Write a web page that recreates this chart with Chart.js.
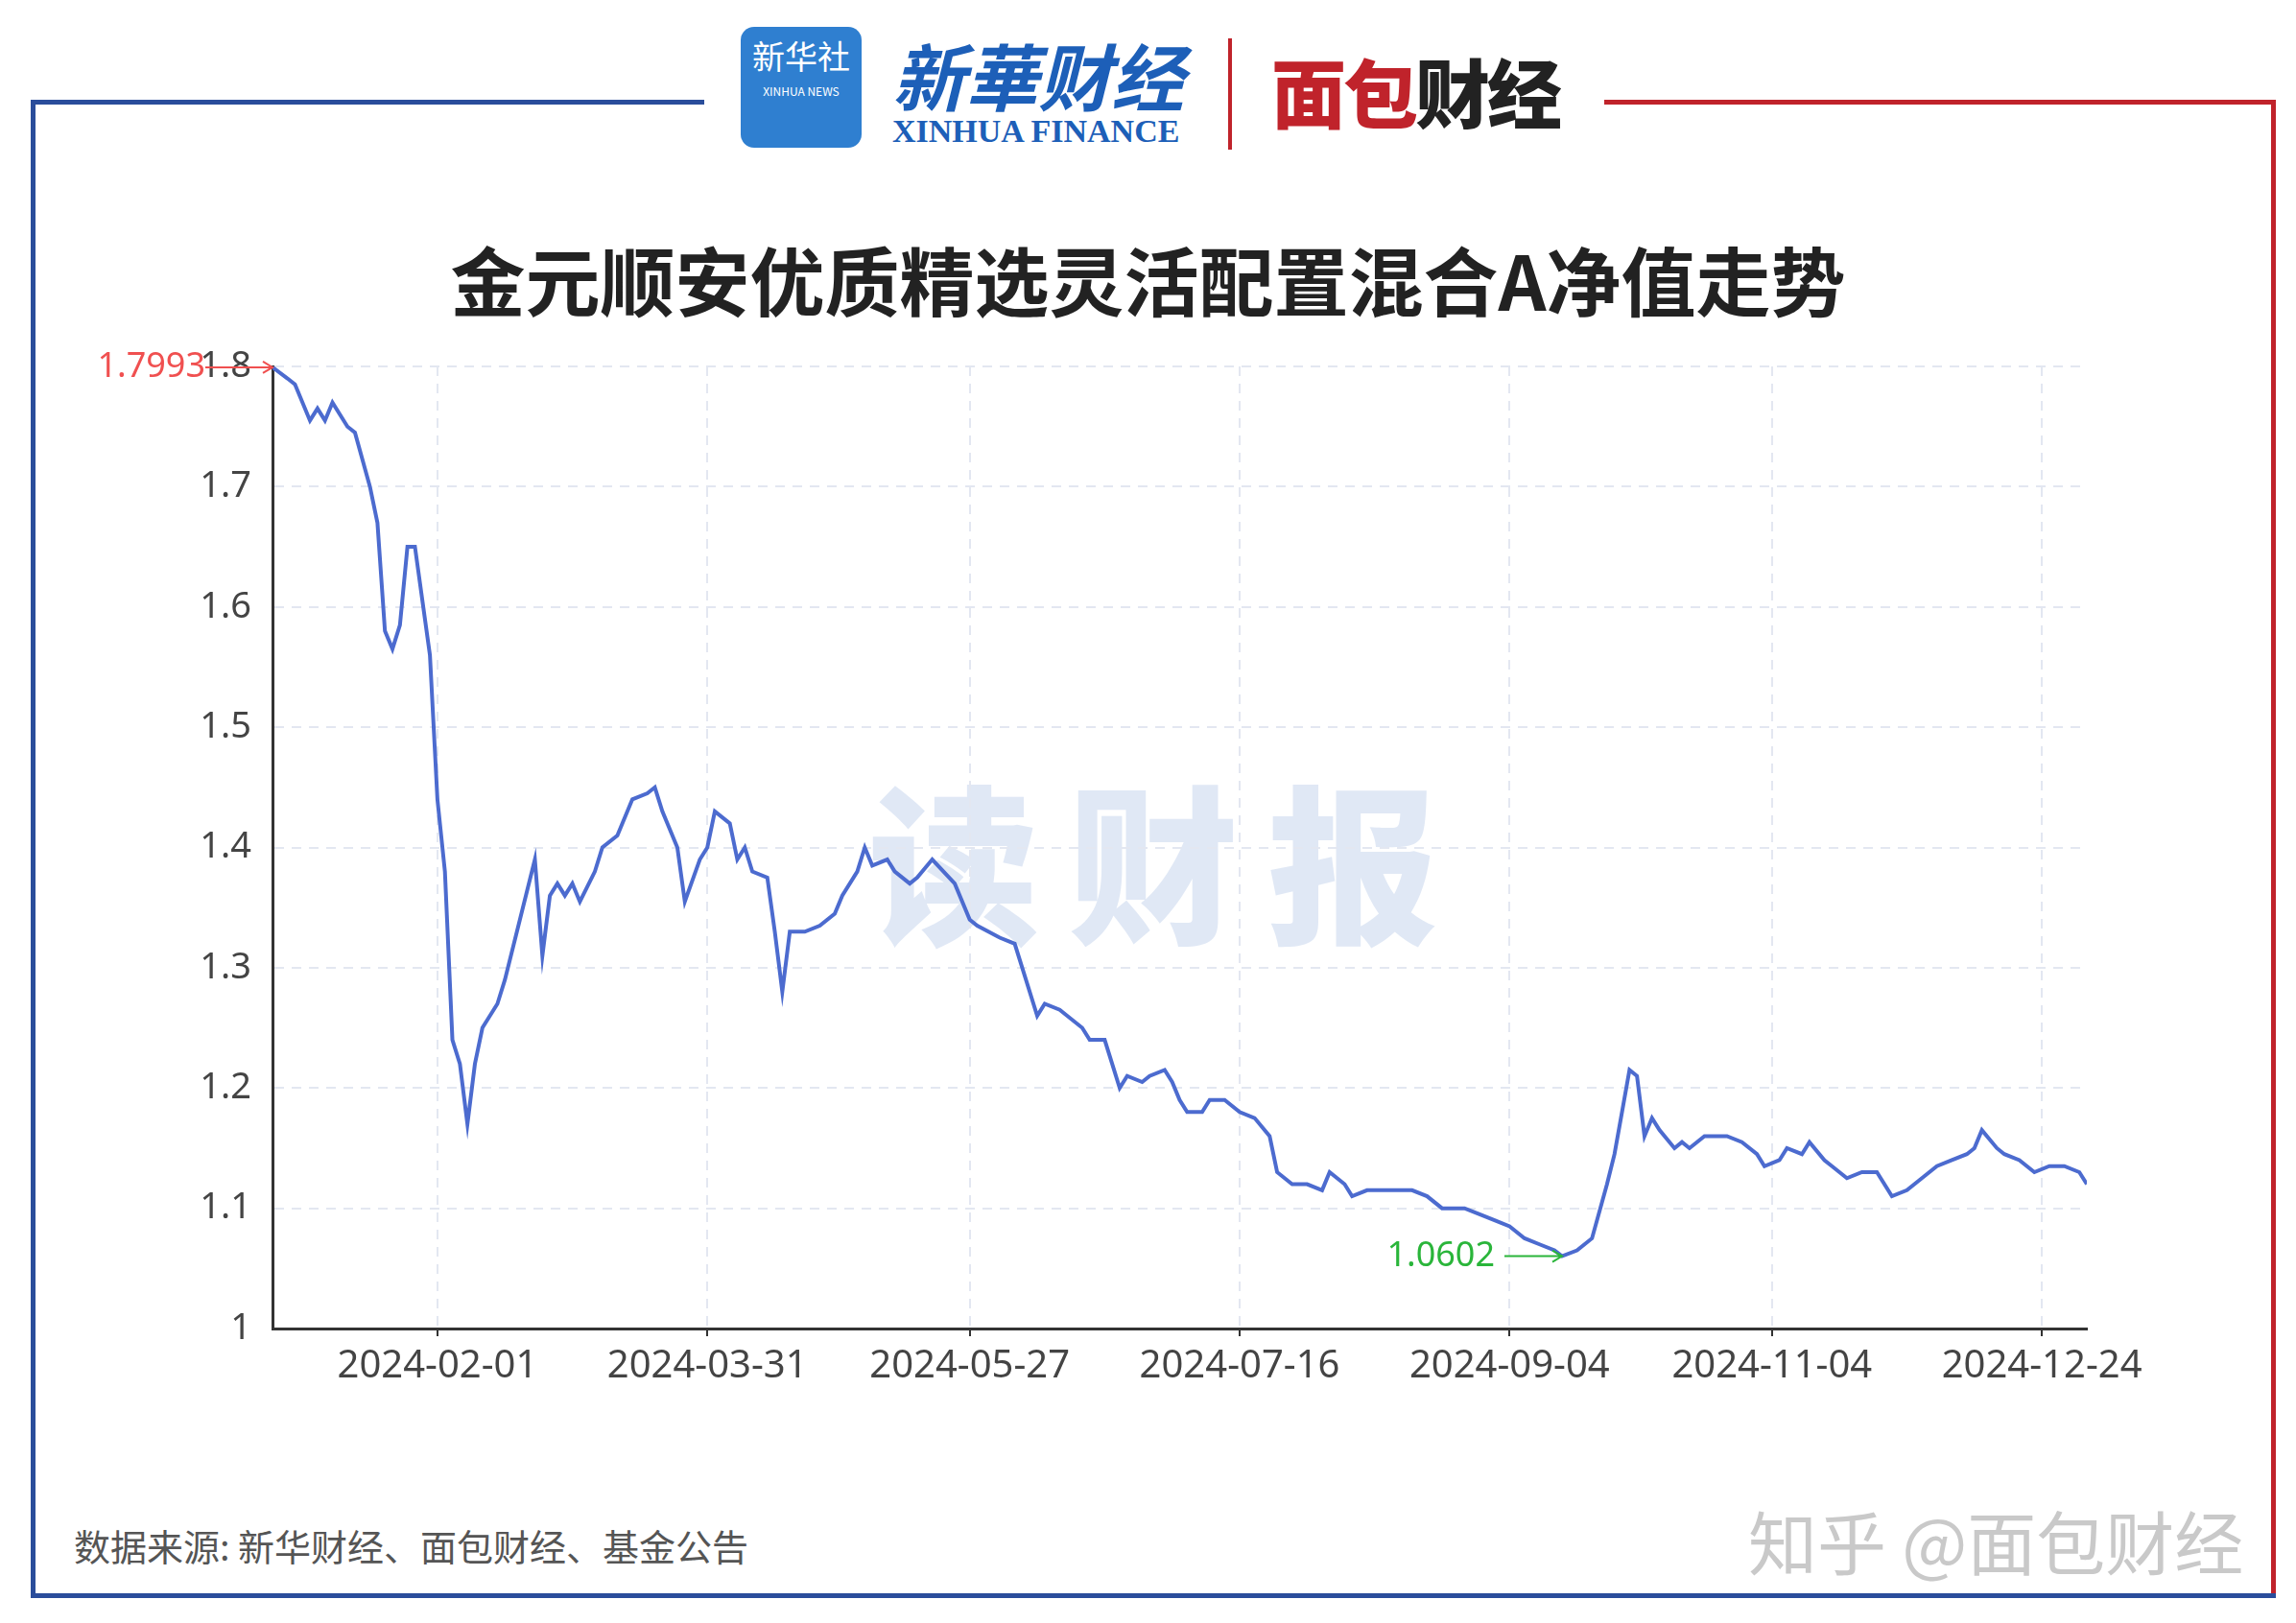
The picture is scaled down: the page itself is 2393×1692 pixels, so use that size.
<!DOCTYPE html>
<html><head><meta charset="utf-8">
<script src="https://cdn.jsdelivr.net/npm/chart.js@4"></script>
<style>
body{margin:0;background:#fff;width:2393px;height:1692px;position:relative;overflow:hidden;font-family:"Noto Sans CJK SC","Noto Sans",sans-serif}
.a{position:absolute}
</style></head><body>
<div class="a" style="left:32px;top:104px;width:702px;height:5px;background:#2a4d9b"></div>
<div class="a" style="left:32px;top:104px;width:5px;height:1562px;background:#2a4d9b"></div>
<div class="a" style="left:32px;top:1661px;width:1170px;height:5px;background:#2a4d9b"></div>
<div class="a" style="left:1672px;top:104px;width:700px;height:5px;background:#c0232b"></div>
<div class="a" style="left:2367px;top:104px;width:5px;height:1562px;background:#c0232b"></div>
<div class="a" style="left:1202px;top:1661px;width:1170px;height:5px;background:#2a4d9b"></div>
<div class="a" style="left:772px;top:28px;width:126px;height:126px;border-radius:14px;background:#2f7fd0;color:#fff;text-align:center;font-size:34px;line-height:60px">新华社<div style="font-size:12px;line-height:14px">XINHUA NEWS</div></div>
<div class="a" style="left:930px;top:22px;color:#1d5fb8;font-size:76px;font-weight:bold;font-style:italic;font-family:'Noto Sans CJK SC'">新華财经</div>
<div class="a" style="left:930px;top:118px;color:#1d5fb8;font-size:34px;font-weight:bold;font-family:'Liberation Serif'">XINHUA FINANCE</div>
<div class="a" style="left:1280px;top:40px;width:4px;height:116px;background:#c0232b"></div>
<div class="a" style="left:1325px;top:38px;color:#c0232b;font-size:78px;font-weight:900;letter-spacing:-3px">面包<span style="color:#222">财经</span></div>
<div class="a" style="left:905px;top:765px;color:rgba(60,110,190,0.16);font-size:178px;font-weight:900;letter-spacing:30px">读财报</div>
<div class="a" style="left:0;width:2393px;top:234px;text-align:center;font-size:78px;font-weight:bold;color:#222">金元顺安优质精选灵活配置混合A净值走势</div>
<div class="a" style="left:77px;top:1583px;font-size:38px;color:#555">数据来源: 新华财经、面包财经、基金公告</div>
<div class="a" style="left:1822px;top:1552px;font-size:72px;color:#c9c9c9">知乎 @面包财经</div>
<canvas id="c" width="2393" height="1692" class="a" style="left:0;top:0"></canvas>
<script>
const dayIndex=[0,2,3,5,6,7,8,10,11,13,14,15,16,17,18,19,21,22,23,24,25,26,27,28,30,31,33,35,36,37,38,39,40,41,43,44,46,48,50,51,52,54,55,57,58,59,61,62,63,64,66,67,68,69,71,73,75,76,78,79,80,82,83,85,86,88,91,93,94,97,99,100,102,103,105,106,108,109,111,112,113,114,116,117,119,120,121,122,124,125,126,127,129,131,133,134,136,138,140,141,143,144,146,149,152,154,156,159,161,163,165,167,169,171,172,174,176,178,179,180,181,182,183,184,185,187,188,189,191,194,196,198,199,201,202,204,205,207,208,210,212,214,216,218,220,222,224,226,227,228,230,231,233,235,237,239,241,242];
const nav=[1.7993,1.79,1.785,1.755,1.765,1.755,1.77,1.75,1.745,1.70,1.67,1.58,1.565,1.585,1.65,1.65,1.56,1.44,1.38,1.24,1.22,1.17,1.22,1.25,1.27,1.29,1.34,1.39,1.31,1.36,1.37,1.36,1.37,1.355,1.38,1.40,1.41,1.44,1.445,1.45,1.43,1.40,1.355,1.39,1.40,1.43,1.42,1.39,1.40,1.38,1.375,1.33,1.28,1.33,1.33,1.335,1.345,1.36,1.38,1.40,1.385,1.39,1.38,1.37,1.375,1.39,1.37,1.34,1.335,1.325,1.32,1.30,1.26,1.27,1.265,1.26,1.25,1.24,1.24,1.22,1.20,1.21,1.205,1.21,1.215,1.205,1.19,1.18,1.18,1.19,1.19,1.19,1.18,1.175,1.16,1.13,1.12,1.12,1.115,1.13,1.12,1.11,1.115,1.115,1.115,1.11,1.10,1.10,1.095,1.09,1.085,1.075,1.07,1.065,1.0602,1.065,1.075,1.12,1.145,1.18,1.215,1.21,1.16,1.175,1.165,1.15,1.155,1.15,1.16,1.16,1.155,1.145,1.135,1.14,1.15,1.145,1.155,1.14,1.135,1.125,1.13,1.13,1.11,1.115,1.125,1.135,1.14,1.145,1.15,1.165,1.15,1.145,1.14,1.13,1.135,1.135,1.13,1.12];
const tickIndex=[22,58,93,129,165,200,236];
const tickLabels=['2024-02-01','2024-03-31','2024-05-27','2024-07-16','2024-09-04','2024-11-04','2024-12-24'];
const points=dayIndex.map((d,i)=>({x:d,y:nav[i]}));
const marks={id:'marks',afterDatasetsDraw(ch){
  const c=ch.ctx,xs=ch.scales.x,ys=ch.scales.y;
  const mx=Math.max(...nav),mn=Math.min(...nav);
  const iM=nav.indexOf(mx),im=nav.indexOf(mn);
  c.save();c.font='36px "Noto Sans"';c.textBaseline='middle';c.lineWidth=2;
  let px=xs.getPixelForValue(dayIndex[iM]),py=ys.getPixelForValue(mx);
  c.fillStyle=c.strokeStyle='#f05050';c.textAlign='right';
  c.fillText(mx.toFixed(4),px-70,py);
  c.beginPath();c.moveTo(px-70,py);c.lineTo(px,py);c.moveTo(px-10,py-6);c.lineTo(px,py);c.lineTo(px-10,py+6);c.stroke();
  px=xs.getPixelForValue(dayIndex[im]);py=ys.getPixelForValue(mn);
  c.fillStyle=c.strokeStyle='#2ab53a';
  c.fillText(mn.toFixed(4),px-70,py);
  c.beginPath();c.moveTo(px-60,py);c.lineTo(px,py);c.moveTo(px-10,py-6);c.lineTo(px,py);c.lineTo(px-10,py+6);c.stroke();
  c.restore();}};
new Chart(document.getElementById('c'),{type:'line',
 data:{datasets:[{data:points,borderColor:'#4c6bcf',borderWidth:4,pointRadius:0,tension:0}]},
 options:{responsive:false,devicePixelRatio:1,animation:false,
  layout:{padding:{left:184,right:218,top:382,bottom:247}},
  plugins:{legend:{display:false},tooltip:{enabled:false}},
  scales:{
   x:{type:'linear',min:0,max:242,afterFit(s){s.height=60},
     afterBuildTicks(s){s.ticks=tickIndex.map(v=>({value:v}))},
     ticks:{autoSkip:false,maxRotation:0,color:'#444',font:{size:40,family:'Noto Sans'},padding:8,callback:(v)=>tickLabels[tickIndex.indexOf(v)]},
     grid:{color:'#e3e7f1',lineWidth:2,tickLength:8,drawTicks:true,tickColor:'#333'},border:{color:'#333',width:3,dash:[10,8]}},
   y:{min:1,max:1.8,afterFit(s){s.width=100},
     ticks:{stepSize:0.1,color:'#444',font:{size:38,family:'Noto Sans'},padding:22,callback:v=>String(Math.round(v*10)/10)},
     grid:{color:'#e3e7f1',lineWidth:2,drawTicks:false},border:{color:'#333',width:3,dash:[10,8]}}
  }},
 plugins:[marks]});
</script></body></html>
